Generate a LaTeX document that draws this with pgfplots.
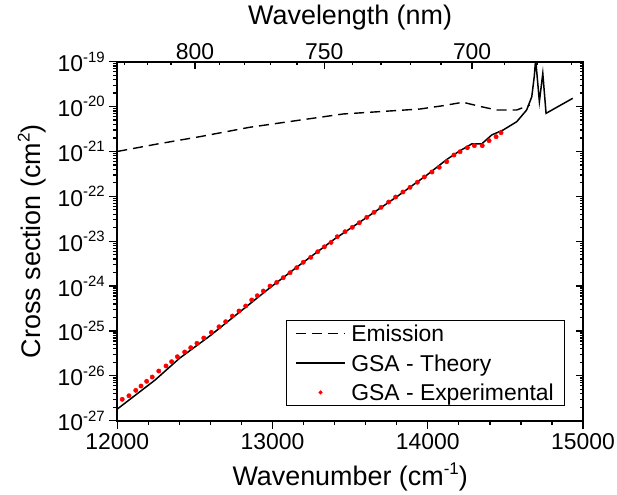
\documentclass[border=0pt]{standalone}
\usepackage{fontspec}
\setmainfont{Liberation Sans}
\usepackage{pgfplots}
\pgfplotsset{compat=1.18}
\newcommand{\tl}[1]{10\raisebox{0.42em}{\fontsize{15}{15}\selectfont #1}}
\pgfplotsset{
  logminors/.style={minor ytick={
    2e-27,3e-27,4e-27,5e-27,6e-27,7e-27,8e-27,9e-27,
    2e-26,3e-26,4e-26,5e-26,6e-26,7e-26,8e-26,9e-26,
    2e-25,3e-25,4e-25,5e-25,6e-25,7e-25,8e-25,9e-25,
    2e-24,3e-24,4e-24,5e-24,6e-24,7e-24,8e-24,9e-24,
    2e-23,3e-23,4e-23,5e-23,6e-23,7e-23,8e-23,9e-23,
    2e-22,3e-22,4e-22,5e-22,6e-22,7e-22,8e-22,9e-22,
    2e-21,3e-21,4e-21,5e-21,6e-21,7e-21,8e-21,9e-21,
    2e-20,3e-20,4e-20,5e-20,6e-20,7e-20,8e-20,9e-20}},
}
\begin{document}
\begin{tikzpicture}
\begin{axis}[
  name=main, at={(0,0)}, anchor=south west,
  scale only axis, width=465.7bp, height=359bp,
  xmin=12000, xmax=15000, ymode=log, ymin=1e-27, ymax=1e-19,
  scaled x ticks=false,
  xtick={12000,13000,14000,15000}, xticklabels={12000,13000,14000,15000},
  minor x tick num=4,
  ytick={1e-27,1e-26,1e-25,1e-24,1e-23,1e-22,1e-21,1e-20,1e-19},
  logminors,
  yticklabels={\tl{-27},\tl{-26},\tl{-25},\tl{-24},\tl{-23},\tl{-22},\tl{-21},\tl{-20},\tl{-19}},
  xtick pos=bottom, ytick pos=left, tick align=outside,
  major tick length=8bp, minor tick length=4.5bp,
  every tick/.style={black, line width=1.3bp},
  axis line style={line width=1.6bp},
  tick label style={font=\fontsize{23}{23}\selectfont},
  xticklabel style={yshift=-1bp},
  yticklabel style={xshift=-1bp},
  xlabel={Wavenumber (cm\raisebox{0.42em}{\fontsize{17}{17}\selectfont -1})},
  ylabel={Cross section (cm\raisebox{0.42em}{\fontsize{17}{17}\selectfont 2})},
  label style={font=\fontsize{27}{27}\selectfont},
  xlabel style={at={(axis description cs:0.5,-0.157)}, anchor=center},
  ylabel style={at={(axis description cs:-0.183,0.5)}, anchor=center, rotate=0},
  legend style={at={(axis description cs:0.961,0.041)}, anchor=south east,
    draw=black, line width=1.2bp, fill=white,
    font=\fontsize{23}{23}\selectfont,
    nodes={inner sep=1.5bp, text height=19bp, text depth=2bp},
    row sep=5.5bp, column sep=4bp, inner xsep=9bp, inner ysep=1bp},
  legend cell align=left,
  legend image code/.code={\draw[#1] (0bp,0bp) -- (49bp,0bp);},
]
\addplot[black, line width=1.4bp, dash pattern=on 10bp off 6bp] coordinates {
(12000,1.0e-21) (12250,1.45e-21) (12533,2.14e-21) (12855,3.47e-21)
(13177,5.0e-21) (13454,6.84e-21) (13700,7.76e-21) (13950,8.83e-21)
(14100,1.05e-20) (14227,1.25e-20) (14330,1.02e-20) (14444,8.4e-21)
(14573,8.4e-21) (14657,1.08e-20)
};
\addlegendentry{Emission}
\addplot[black, line width=1.5bp] coordinates {
(12000,1.82e-27) (12243,8.05e-27) (12400,2.45e-26) (12600,7.94e-26)
(12800,2.85e-25) (13000,1.02e-24) (13200,3.43e-24) (13400,1.12e-23)
(13600,3.27e-23) (13800,9.77e-23) (14000,3.09e-22) (14122,6.61e-22)
(14200,1.0e-21) (14283,1.47e-21) (14347,1.47e-21) (14412,2.33e-21)
(14485,3.0e-21) (14573,4.6e-21) (14637,8.4e-21) (14670,1.66e-20)
(14686,4.68e-20) (14695,1.12e-19) (14719,1.29e-20) (14741,5.5e-20)
(14762,7.08e-21) (14934,1.53e-20)
};
\addlegendentry{GSA - Theory}
\addplot[only marks, mark=*, mark size=2.2bp, red, mark options={draw=red, fill=red},
  legend image code/.code={\fill[red] (24.5bp,0bp) circle (1.3bp);}] coordinates {
(12032,3.0e-27) (12075,3.6e-27) (12119,4.75e-27) (12153,5.93e-27)
(12189,7.55e-27) (12225,9.4e-27) (12267,1.28e-26) (12314,1.66e-26)
(12350,2.07e-26) (12387,2.67e-26) (12434,3.4e-26) (12473,4.24e-26)
(12513,5.31e-26) (12557,6.97e-26) (12606,9.3e-26) (12655,1.24e-25)
(12698,1.61e-25) (12741,2.15e-25) (12784,2.79e-25) (12827,3.6e-25)
(12866,4.9e-25) (12902,6.1e-25) (12941,7.76e-25) (12984,1.0e-24)
(13027,1.21e-24) (13069,1.54e-24) (13113,1.99e-24) (13156,2.57e-24)
(13198,3.39e-24) (13246,4.38e-24) (13291,5.83e-24) (13334,7.5e-24)
(13377,9.4e-24) (13417,1.26e-23) (13467,1.63e-23) (13514,2.04e-23)
(13559,2.58e-23) (13607,3.41e-23) (13654,4.41e-23) (13699,5.69e-23)
(13748,7.48e-23) (13793,9.66e-23) (13840,1.25e-22) (13886,1.59e-22)
(13933,2.06e-22) (13978,2.70e-22) (14027,3.48e-22) (14074,4.44e-22)
(14122,5.91e-22) (14169,8.34e-22) (14208,9.87e-22) (14255,1.21e-21)
(14300,1.35e-21) (14351,1.35e-21) (14395,1.74e-21) (14440,2.13e-21)
(14472,2.62e-21)
};
\addlegendentry{GSA - Experimental}
\end{axis}
\begin{axis}[
  at={(0,0)}, anchor=south west,
  scale only axis, width=465.7bp, height=359bp,
  xmin=12000, xmax=15000, ymode=log, ymin=1e-27, ymax=1e-19,
  scaled x ticks=false,
  xtick={12500,13333.33,14285.71}, xticklabels={800,750,700},
  minor xtick={12048.19,12195.12,12345.68,12658.23,12820.51,12987.01,13157.89,13513.51,13698.63,13888.89,14084.51,14492.75,14705.88,14925.37},
  ytick={1e-27,1e-26,1e-25,1e-24,1e-23,1e-22,1e-21,1e-20,1e-19},
  logminors,
  yticklabels={},
  xtick pos=top, xticklabel pos=top, ytick pos=right, tick align=inside,
  major tick length=7bp, minor tick length=3.5bp,
  every tick/.style={black, line width=1.3bp},
  axis line style={line width=1.6bp},
  tick label style={font=\fontsize{23}{23}\selectfont},
  xticklabel style={inner sep=1bp, yshift=1bp},
  xlabel={Wavelength (nm)},
  label style={font=\fontsize{27}{27}\selectfont},
  xlabel style={at={(axis description cs:0.5,1.123)}, anchor=center},
]
\end{axis}
\pgfresetboundingbox
\path[use as bounding box] (-117.3bp,-74.3bp) rectangle (499.7bp,420.7bp);
\end{tikzpicture}
\end{document}
